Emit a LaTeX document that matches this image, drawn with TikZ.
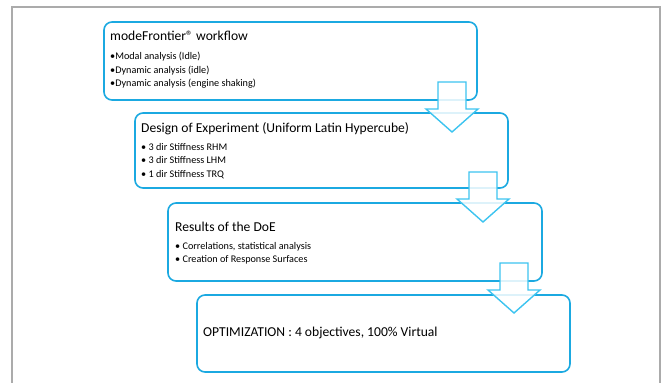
\documentclass[tikz,border=0pt]{standalone}
\usepackage{fontspec}
\setmainfont{Carlito}
\usepackage{xcolor}
\usetikzlibrary{positioning,calc}

\definecolor{boxblue}{HTML}{1BA9E1}
\definecolor{arrowblue}{HTML}{3DC4F0}
\definecolor{framegray}{HTML}{ABABAB}

\tikzset{
    stagebox/.style={draw=boxblue, line width=1.6pt, rounded corners=8pt, fill=white},
    stagetitle/.style={anchor=north west, inner sep=0pt, font=\fontsize{13.6}{15}\selectfont},
    stagelist/.style={anchor=north west, inner sep=0pt, align=left, font=\fontsize{10.2}{13.6}\selectfont},
    flowarrow/.style={draw=arrowblue, line width=1.4pt, fill=white, fill opacity=0.85, line join=miter},
    pics/downarrow/.style={code={
        \path[flowarrow] (-14,0) -- (14,0) -- (14,27) -- (26,27) -- (0,50) -- (-26,27) -- (-14,27) -- cycle;
    }}
}

\begin{document}
\begin{tikzpicture}[x=1pt, y=-1pt]
    \useasboundingbox (0,0) rectangle (667,383);

    % Outer frame
    \draw[framegray, line width=2.4pt] (12,400) -- (12,7) -- (660,7) -- (660,400);

    % Stages
    \path[stagebox] (104,22) rectangle (477,100);
    \coordinate (s1) at (104,22);
    \path[stagebox] (135,113) rectangle (508,188);
    \coordinate (s2) at (135,113);
    \path[stagebox] (168,203) rectangle (542,281);
    \coordinate (s3) at (168,203);
    \path[stagebox] (197,295) rectangle (570,372);
    \coordinate (s4) at (197,295);

    % Stage 1 text
    \node[stagetitle] (t1) at ($(s1)+(6,9)$) {modeFrontier® workflow};
    \node[stagelist] (l1) at ($(s1)+(6,30)$) {•Modal analysis (Idle)\\•Dynamic analysis (idle)\\•Dynamic analysis (engine shaking)};

    % Stage 2 text
    \node[stagetitle] (t2) at ($(s2)+(6,9)$) {Design of Experiment (Uniform Latin Hypercube)};
    \node[stagelist] (l2) at ($(s2)+(6,30)$) {• 3 dir Stiffness RHM\\• 3 dir Stiffness LHM\\• 1 dir Stiffness TRQ};

    % Stage 3 text
    \node[stagetitle] (t3) at ($(s3)+(7,19)$) {Results of the DoE};
    \node[stagelist] (l3) at ($(s3)+(7,39)$) {• Correlations, statistical analysis\\• Creation of Response Surfaces};

    % Stage 4 text
    \node[anchor=west, inner sep=0pt, font=\fontsize{13.6}{15}\selectfont] (t4) at ($(s4)+(6,38)$) {OPTIMIZATION : 4 objectives, 100\% Virtual};

    % Block arrows between stages
    \pic at (452,82) {downarrow};
    \pic at (483,172) {downarrow};
    \pic at (514,263) {downarrow};
\end{tikzpicture}
\end{document}
